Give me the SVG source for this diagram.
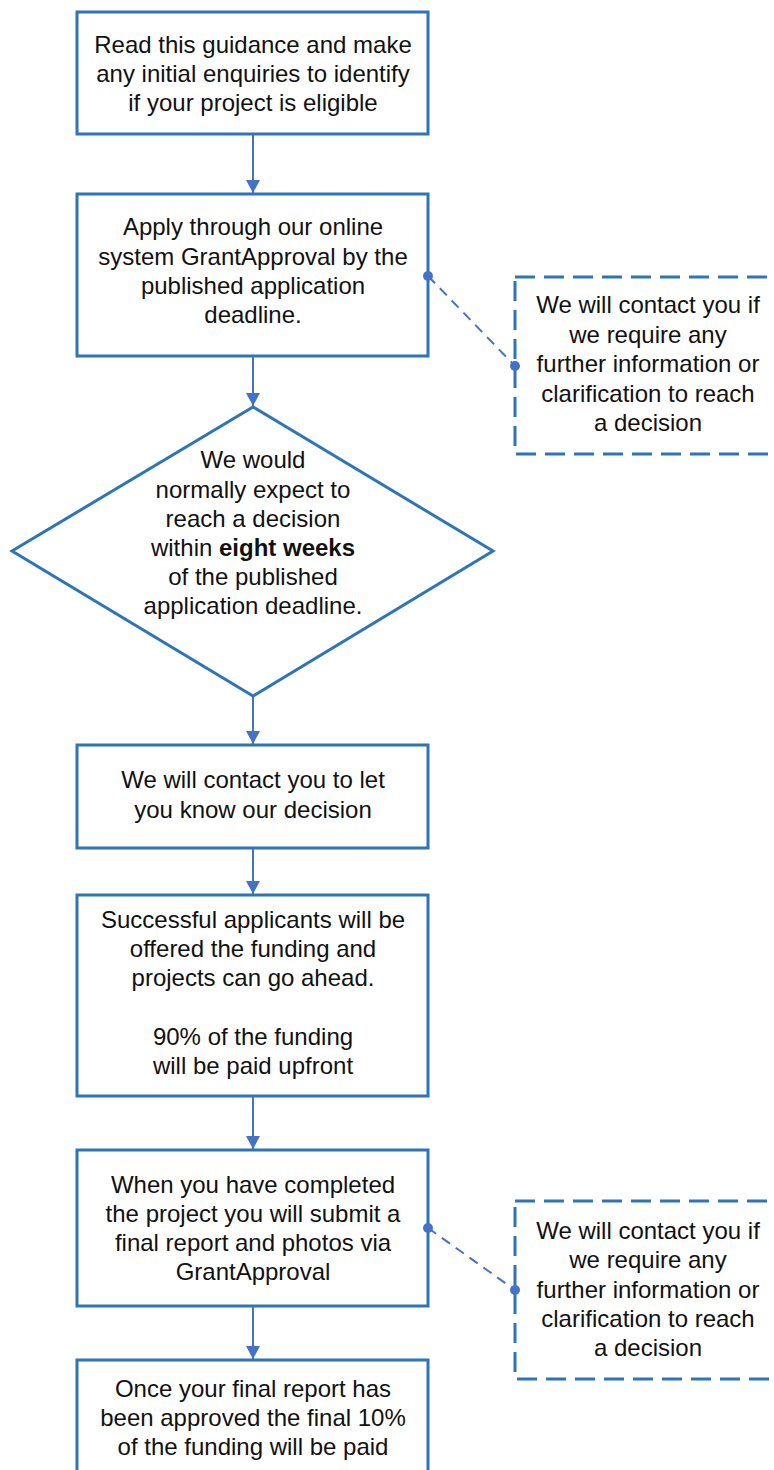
<svg xmlns="http://www.w3.org/2000/svg" width="774" height="1470" viewBox="0 0 774 1470">
<defs>
<style>
.box{fill:#fff;stroke:#2e75b6;stroke-width:3}
.dbox{fill:#fff;stroke:#2e75b6;stroke-width:3;stroke-dasharray:20 9}
.conn{stroke:#4472c4;stroke-width:2;fill:none}
.dconn{stroke:#4472c4;stroke-width:2;fill:none;stroke-dasharray:10 7}
.dot{fill:#4472c4}
text{font-family:"Liberation Sans",Arial,sans-serif;font-size:24px;fill:#111;text-anchor:middle}
</style>
<marker id="arr" markerWidth="14" markerHeight="14" viewBox="0 0 14 14" refX="13" refY="7" orient="auto" markerUnits="userSpaceOnUse">
<path d="M0,0 L13,7 L0,14 z" fill="#4472c4"/>
</marker>
</defs>
<rect width="774" height="1470" fill="#fff"/>
<g id="n1">
<rect class="box" x="77" y="12" width="351" height="122"/>
<text x="253" y="53">Read this guidance and make</text>
<text x="253" y="82">any initial enquiries to identify</text>
<text x="253" y="111">if your project is eligible</text>
</g>
<g id="n2">
<rect class="box" x="77" y="194" width="351" height="162"/>
<text x="253" y="235">Apply through our online</text>
<text x="253" y="265">system GrantApproval by the</text>
<text x="253" y="294">published application</text>
<text x="253" y="323">deadline.</text>
</g>
<g id="n3">
<rect class="dbox" x="515" y="277" width="270" height="177"/>
<text x="648" y="313">We will contact you if</text>
<text x="648" y="343">we require any</text>
<text x="648" y="372">further information or</text>
<text x="648" y="402">clarification to reach</text>
<text x="648" y="431">a decision</text>
</g>
<g id="n4">
<polygon class="box" points="253,407 493,551 253,696 12,551"/>
<text x="253" y="468">We would</text>
<text x="253" y="498">normally expect to</text>
<text x="253" y="527">reach a decision</text>
<text x="253" y="556">within <tspan font-weight="bold">eight weeks</tspan></text>
<text x="253" y="585">of the published</text>
<text x="253" y="614">application deadline.</text>
</g>
<g id="n5">
<rect class="box" x="77" y="745" width="351" height="103"/>
<text x="253" y="788">We will contact you to let</text>
<text x="253" y="818">you know our decision</text>
</g>
<g id="n6">
<rect class="box" x="77" y="895" width="351" height="201"/>
<text x="253" y="928">Successful applicants will be</text>
<text x="253" y="957">offered the funding and</text>
<text x="253" y="986">projects can go ahead.</text>
<text x="253" y="1045">90% of the funding</text>
<text x="253" y="1074">will be paid upfront</text>
</g>
<g id="n7">
<rect class="box" x="77" y="1150" width="351" height="156"/>
<text x="253" y="1193">When you have completed</text>
<text x="253" y="1222">the project you will submit a</text>
<text x="253" y="1251">final report and photos via</text>
<text x="253" y="1280">GrantApproval</text>
</g>
<g id="n8">
<rect class="dbox" x="515" y="1201" width="270" height="178"/>
<text x="648" y="1239">We will contact you if</text>
<text x="648" y="1268">we require any</text>
<text x="648" y="1298">further information or</text>
<text x="648" y="1327">clarification to reach</text>
<text x="648" y="1356">a decision</text>
</g>
<g id="n9">
<rect class="box" x="77" y="1360" width="351" height="130"/>
<text x="253" y="1397">Once your final report has</text>
<text x="253" y="1426">been approved the final 10%</text>
<text x="253" y="1455">of the funding will be paid</text>
</g>
<g id="connectors">
<line class="conn" x1="253" y1="135" x2="253" y2="193" marker-end="url(#arr)"/>
<line class="conn" x1="253" y1="357" x2="253" y2="406" marker-end="url(#arr)"/>
<line class="conn" x1="253" y1="697" x2="253" y2="744" marker-end="url(#arr)"/>
<line class="conn" x1="253" y1="849" x2="253" y2="894" marker-end="url(#arr)"/>
<line class="conn" x1="253" y1="1097" x2="253" y2="1149" marker-end="url(#arr)"/>
<line class="conn" x1="253" y1="1307" x2="253" y2="1359" marker-end="url(#arr)"/>
<line class="dconn" x1="428" y1="276" x2="515" y2="366"/>
<circle class="dot" cx="428" cy="276" r="5"/>
<circle class="dot" cx="515" cy="366" r="5"/>
<line class="dconn" x1="428" y1="1228" x2="515" y2="1290"/>
<circle class="dot" cx="428" cy="1228" r="5"/>
<circle class="dot" cx="515" cy="1290" r="5"/>
</g>
</svg>
